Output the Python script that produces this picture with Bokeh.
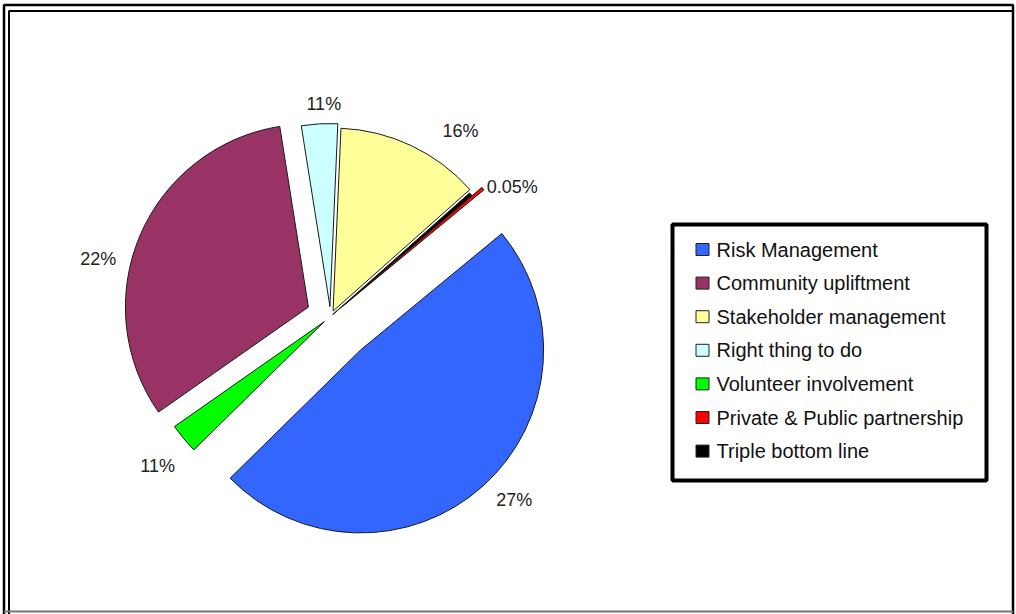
import math
from bokeh.plotting import figure
from bokeh.models import Range1d, ColumnDataSource
from bokeh.core.properties import value
from bokeh.embed import file_html
from bokeh.resources import INLINE

# ---------------- data (legend order) ----------------
categories = ["Risk Management", "Community upliftment", "Stakeholder management",
              "Right thing to do", "Volunteer involvement",
              "Private & Public partnership", "Triple bottom line"]
shares = [48.61, 32.22, 12.75, 3.19, 2.64, 0.28, 0.31]          # share of the drawn pie, %
label_texts = ["27%", "22%", "16%", "11%", "11%", "", "0.05%"]   # printed data labels
colors = ["#3366FF", "#993366", "#FFFF99", "#CCFFFF", "#00FF00", "#FF0000", "#000000"]

# ---------------- styling ----------------
pie_order = [5, 6, 2, 3, 1, 4, 0]       # counter-clockwise drawing order from start angle
start_deg = 39.5
explode = [45, 24, 6, 10, 8, 16, 3]      # px, along each slice's bisector
label_nudge = [(11, -8), (-14, 35), (36, 12), (6, 10), (-3, 8), (0, 0), (19, 12)]  # screen px
W, H = 1016, 614
CX, CY = 330, H - 316
R = 183
FONT = "Liberation Sans"

p = figure(width=W, height=H, output_backend="svg", toolbar_location=None,
           x_range=Range1d(0, W), y_range=Range1d(0, H), min_border=0,
           x_axis_location=None, y_axis_location=None)
p.grid.visible = False
p.outline_line_color = None
p.background_fill_color = "white"
p.border_fill_color = "white"

# ---------------- pie ----------------
xs, ys, st, en, cols, lx, ly, lt = [], [], [], [], [], [], [], []
a = math.radians(start_deg)
for i in pie_order:
    span = shares[i] / sum(shares) * 2 * math.pi
    mid = a + span / 2
    cx = CX + explode[i] * math.cos(mid)
    cy = CY + explode[i] * math.sin(mid)
    xs.append(cx); ys.append(cy); st.append(a); en.append(a + span); cols.append(colors[i])
    if label_texts[i]:
        d = R + explode[i] + 30
        lx.append(CX + d * math.cos(mid) + label_nudge[i][0])
        ly.append(CY + d * math.sin(mid) - label_nudge[i][1])
        lt.append(label_texts[i])
    a += span

src = ColumnDataSource(dict(x=xs, y=ys, start=st, end=en, color=cols))
p.wedge(x="x", y="y", radius=R, start_angle="start", end_angle="end",
        fill_color="color", line_color="#1a1a1a", line_width=1, source=src)

p.text(x=lx, y=ly, text=lt, text_align="center", text_baseline="middle",
       text_font=value(FONT), text_font_size="18px", text_color="#222222")

# ---------------- legend ----------------
p.quad(left=[672], right=[986], top=[H - 224], bottom=[H - 480],
       fill_color="white", line_color="black", line_width=4)
rows = [H - (249 + k * 33.6) for k in range(len(categories))]
p.rect(x=[702] * len(categories), y=rows, width=13, height=12,
       fill_color=colors, line_color="#222222", line_width=1)
p.text(x=[716] * len(categories), y=rows, text=categories, text_align="left",
       text_baseline="middle", text_font=value(FONT), text_font_size="20px",
       text_color="#111111")

# ---------------- chart-area frame ----------------
p.line(x=[3.5, 3.5, 1012.5, 1012.5], y=[0, H - 4.5, H - 4.5, 0], line_color="black", line_width=2.5)
p.line(x=[8.5, 8.5, 1012.5], y=[0, H - 10.5, H - 10.5], line_color="black", line_width=2)
p.line(x=[3.5, 1012.5], y=[H - 611, H - 611], line_color="#777777", line_width=2)

open("out.html", "w").write(file_html(p, INLINE))
